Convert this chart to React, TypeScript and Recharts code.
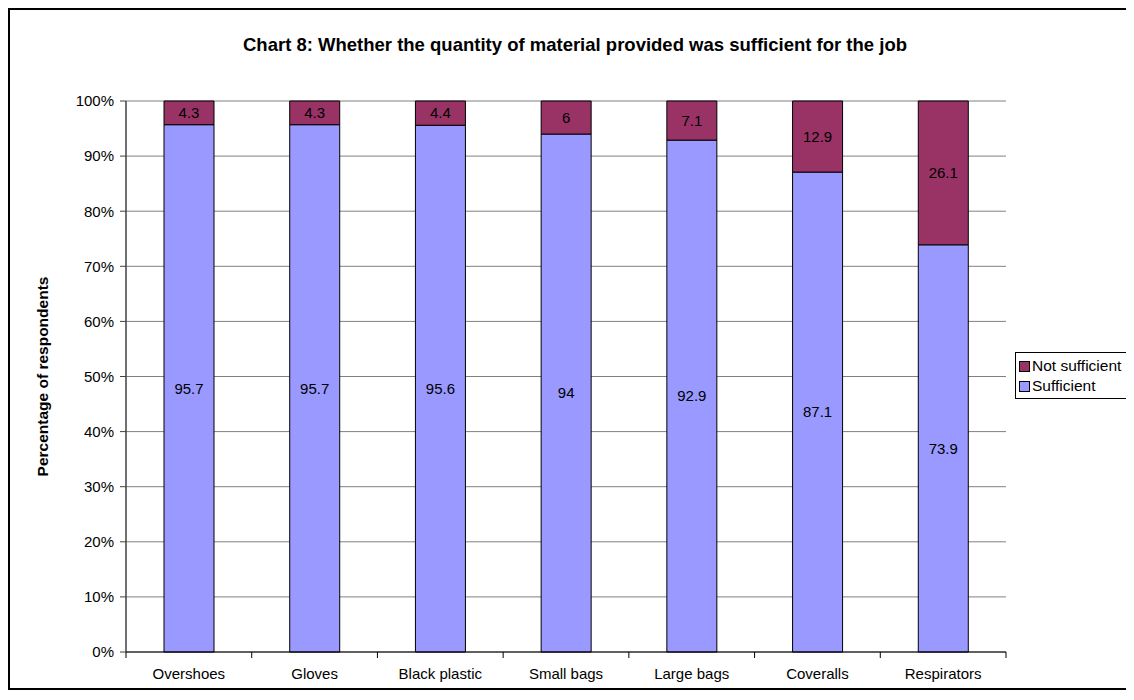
import { BarChart, Bar, XAxis, YAxis, CartesianGrid, LabelList } from "recharts";

const categories = ["Overshoes", "Gloves", "Black plastic", "Small bags", "Large bags", "Coveralls", "Respirators"];
const sufficient = [95.7, 95.7, 95.6, 94, 92.9, 87.1, 73.9];
const notSufficient = [4.3, 4.3, 4.4, 6, 7.1, 12.9, 26.1];
const yTicks = [0, 10, 20, 30, 40, 50, 60, 70, 80, 90, 100];

const data = categories.map((name, i) => ({
  name,
  sufficient: sufficient[i],
  notSufficient: notSufficient[i],
}));

const W = 1121;
const H = 678;
const M = { top: 91, right: 125, bottom: 6, left: 0 };
const Y_W = 116;
const STEP = (W - M.left - M.right - Y_W) / categories.length;

const FONT = '"Liberation Sans", Arial, sans-serif';
const BLUE = "#9999FF";
const PLUM = "#993366";

function XTick(props: any) {
  const { x, y, payload, index } = props;
  const last = index === categories.length - 1;
  return (
    <g>
      <line x1={x - STEP / 2} y1={y} x2={x - STEP / 2} y2={y + 6} stroke="#000" />
      {last && <line x1={x + STEP / 2} y1={y} x2={x + STEP / 2} y2={y + 6} stroke="#000" />}
      <text x={x} y={y + 21} textAnchor="middle" dominantBaseline="central" fontSize={15} fill="#000" fontFamily={FONT}>
        {payload.value}
      </text>
    </g>
  );
}

function LegendBox() {
  const items = [
    { label: "Not sufficient", color: PLUM },
    { label: "Sufficient", color: BLUE },
  ];
  return (
    <div
      style={{
        position: "absolute",
        left: 1005,
        top: 342,
        border: "1px solid #000",
        background: "#fff",
        padding: "3px 3px",
        fontFamily: FONT,
        fontSize: 15.5,
        lineHeight: "20px",
        boxSizing: "border-box",
        width: 114,
        height: 47,
      }}
    >
      {items.map((it) => (
        <div key={it.label} style={{ display: "flex", alignItems: "center", gap: 2, whiteSpace: "nowrap" }}>
          <span style={{ width: 9, height: 9, background: it.color, border: "1px solid #000", display: "inline-block" }} />
          <span>{it.label}</span>
        </div>
      ))}
    </div>
  );
}

export default function App() {
  return (
    <div
      style={{
        position: "relative",
        width: W + 4,
        height: H + 4,
        border: "2px solid #000",
        boxSizing: "border-box",
        fontFamily: FONT,
        background: "#fff",
      }}
    >
      <div
        style={{
          position: "absolute",
          top: 24,
          left: 0,
          width: 1130,
          textAlign: "center",
          fontWeight: "bold",
          fontSize: 18.5,
          lineHeight: "22px",
          whiteSpace: "nowrap",
        }}
      >
        Chart 8: Whether the quantity of material provided was sufficient for the job
      </div>
      <BarChart width={W} height={H} data={data} margin={M} barSize={50}>
        <CartesianGrid vertical={false} stroke="#808080" strokeWidth={1} />
        <XAxis
          dataKey="name"
          height={30}
          tickLine={false}
          tickSize={0}
          tickMargin={0}
          axisLine={{ stroke: "#000" }}
          tick={<XTick />}
          interval={0}
        />
        <YAxis
          width={Y_W}
          domain={[0, 100]}
          ticks={yTicks}
          tickFormatter={(v) => `${v}%`}
          axisLine={{ stroke: "#404040", strokeWidth: 1.5 }}
          tickLine={{ stroke: "#404040" }}
          tickSize={6}
          tickMargin={6}
          tick={{ fontSize: 15, fill: "#000", fontFamily: FONT }}
          label={{
            value: "Percentage of respondents",
            angle: -90,
            position: "center",
            dx: -26,
            fontSize: 15.5,
            fontWeight: "bold",
            fill: "#000",
            fontFamily: FONT,
          }}
        />
        <YAxis yAxisId="right" orientation="right" width={0} tick={false} tickLine={false} axisLine={{ stroke: "#808080" }} domain={[0, 100]} />
        <Bar dataKey="sufficient" name="Sufficient" stackId="a" fill={BLUE} stroke="#000" strokeWidth={1} isAnimationActive={false}>
          <LabelList dataKey="sufficient" position="center" fill="#000" fontSize={15} fontFamily={FONT} />
        </Bar>
        <Bar dataKey="notSufficient" name="Not sufficient" stackId="a" fill={PLUM} stroke="#000" strokeWidth={1} isAnimationActive={false}>
          <LabelList dataKey="notSufficient" position="center" fill="#000" fontSize={15} fontFamily={FONT} />
        </Bar>
      </BarChart>
      <LegendBox />
    </div>
  );
}
